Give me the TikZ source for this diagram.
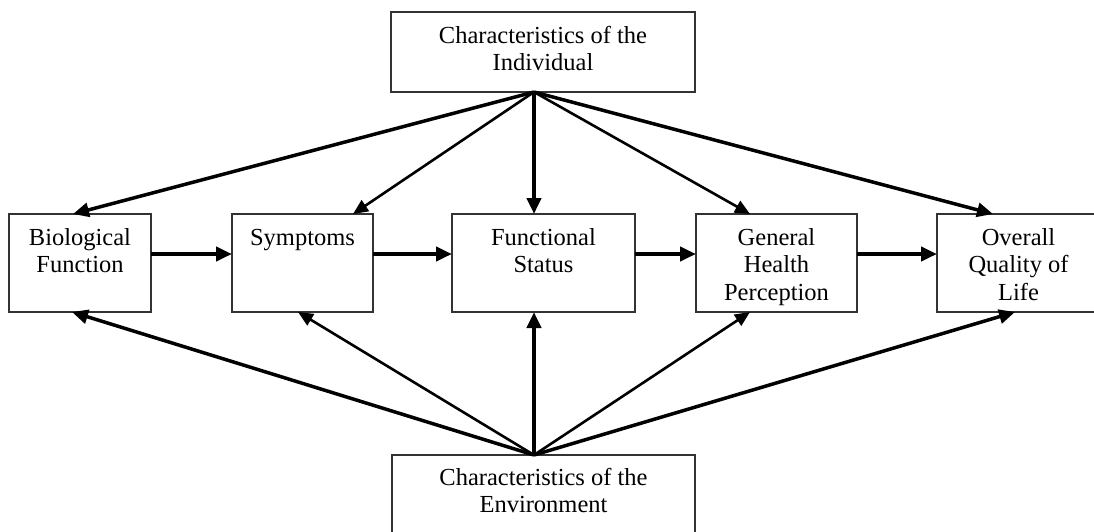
\documentclass[tikz,border=0pt]{standalone}
\usepackage{fontspec}
\setmainfont{Liberation Serif}
\usetikzlibrary{arrows.meta}
\begin{document}
\begin{tikzpicture}[x=1pt,y=-1pt,
  box/.style n args={2}{draw=black!80,line width=1.4pt,minimum width=#1,minimum height=#2,inner sep=0pt,outer sep=0pt},
  txt/.style={anchor=north,inner sep=0pt,align=center,font=\fontsize{24.5}{27.5}\selectfont},
  tip/.style={-{Triangle[length=16pt,width=14pt]}},
  heavy/.style={tip,line width=4.2pt},
  mid/.style={tip,line width=3.5pt},
  light/.style={-{Triangle[length=15pt,width=13pt]},line width=2.6pt}]
\path[use as bounding box] (0,0) rectangle (1094,531);
\clip (0,0) rectangle (1094,531);
% boxes
\node[box={304pt}{80pt}] (ind) at (543,52) {};
\node[txt] (indt) at ([yshift=-11.75pt]ind.north) {\strut Characteristics of the\\Individual};
\node[box={303pt}{100pt}] (env) at (543.5,505) {};
\node[txt] (envt) at ([yshift=-11pt]env.north) {\strut Characteristics of the\\Environment};
\node[box={142pt}{98pt}] (bio) at (80,263) {};
\node[txt] (biot) at ([yshift=-11.75pt]bio.north) {\strut Biological\\Function};
\node[box={141pt}{98pt}] (sym) at (302.5,263) {};
\node[txt] (symt) at ([yshift=-11.75pt]sym.north) {\strut Symptoms};
\node[box={183pt}{98pt}] (fun) at (543.5,263) {};
\node[txt] (funt) at ([yshift=-11.75pt]fun.north) {\strut Functional\\Status};
\node[box={161pt}{98pt}] (gen) at (776.5,263) {};
\node[txt] (gent) at ([yshift=-11.75pt]gen.north) {\strut General\\Health\\Perception};
\node[box={163pt}{98pt}] (ove) at (1018.5,263) {};
\node[txt] (ovet) at ([yshift=-11.75pt]ove.north) {\strut Overall\\Quality of\\Life};
% origins
\coordinate (io) at ([xshift=-9pt]ind.south);
\coordinate (eo) at ([xshift=-9.5pt]env.north);
% horizontal chain
\draw[heavy] ([yshift=9pt]bio.east) -- ([yshift=9pt]sym.west);
\draw[heavy] ([yshift=9pt]sym.east) -- ([yshift=9pt]fun.west);
\draw[heavy] ([yshift=9pt]fun.east) -- ([yshift=9pt]gen.west);
\draw[heavy] ([yshift=9pt]gen.east) -- ([yshift=9pt]ove.west);
% from individual
\draw[mid] (io) -- ([xshift=-7pt]bio.north);
\draw[light] (io) -- ([xshift=50.5pt]sym.north);
\draw[heavy] (io) -- ([xshift=-9.5pt]fun.north);
\draw[light] (io) -- ([xshift=-26.5pt]gen.north);
\draw[mid] (io) -- ([xshift=-25.5pt]ove.north);
% from environment
\draw[mid] (eo) -- ([xshift=-8pt]bio.south);
\draw[light] (eo) -- ([xshift=-4.5pt]sym.south);
\draw[heavy] (eo) -- ([xshift=-9.5pt]fun.south);
\draw[light] (eo) -- ([xshift=-26.5pt]gen.south);
\draw[mid] (eo) -- ([xshift=-3.5pt]ove.south);
\end{tikzpicture}
\end{document}
